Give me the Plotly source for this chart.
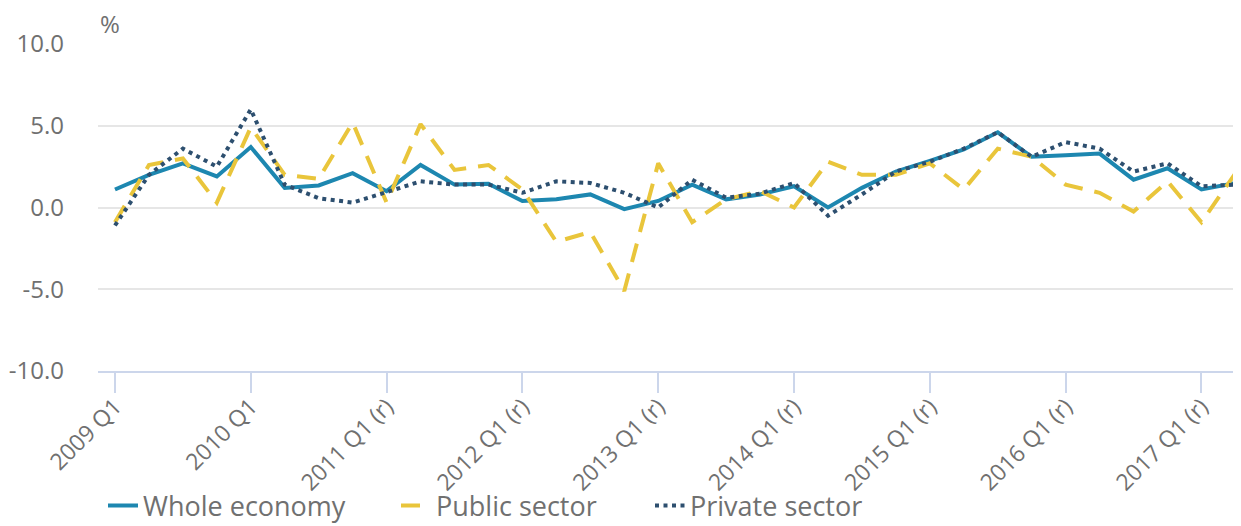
import plotly.graph_objects as go

years = list(range(2009, 2018))
quarters = ["Q1", "Q2", "Q3", "Q4"]
categories = []
for y in years:
    for q in quarters:
        suffix = " (r)" if y >= 2011 else ""
        categories.append(f"{y} {q}{suffix}")
categories = categories[:34]  # 2009 Q1 .. 2017 Q2

whole_economy = [1.1, 2.0, 2.7, 1.9, 3.7, 1.2, 1.35, 2.1, 1.0, 2.6, 1.4, 1.45,
                 0.4, 0.5, 0.8, -0.1, 0.4, 1.4, 0.5, 0.8, 1.3, 0.0, 1.2, 2.2,
                 2.85, 3.55, 4.6, 3.1, 3.2, 3.3, 1.7, 2.4, 1.1, 1.5]
public_sector = [-0.9, 2.6, 3.0, 0.3, 4.9, 2.0, 1.75, 5.2, 0.3, 5.1, 2.3, 2.6,
                 1.1, -2.1, -1.5, -5.1, 2.7, -0.9, 0.5, 1.0, 0.0, 2.8, 2.0, 2.0,
                 2.7, 1.1, 3.6, 3.1, 1.4, 0.9, -0.25, 1.6, -0.9, 2.1]
private_sector = [-1.1, 2.0, 3.6, 2.5, 6.0, 1.4, 0.57, 0.3, 0.94, 1.6, 1.4, 1.4,
                  0.9, 1.6, 1.5, 0.9, 0.0, 1.7, 0.6, 0.85, 1.5, -0.5, 0.8, 2.2,
                  2.8, 3.6, 4.6, 3.1, 4.0, 3.6, 2.2, 2.7, 1.3, 1.4]

tick_vals = categories[::4]
y_ticks = [-10, -5, 0, 5, 10]
y_tick_text = ["-10.0", "-5.0", "0.0", "5.0", "10.0"]

FONT = "Open Sans"
GREY = "#707070"
W, H = 1241, 526

fig = go.Figure()
fig.add_trace(go.Scatter(x=categories, y=whole_economy, name="Whole economy",
                         mode="lines", line=dict(color="#1d87b0", width=4),
                         legend="legend"))
fig.add_trace(go.Scatter(x=categories, y=public_sector, name="Public sector",
                         mode="lines", line=dict(color="#e9c53b", width=4, dash="19px,12px"),
                         legend="legend2"))
fig.add_trace(go.Scatter(x=categories, y=private_sector, name="Private sector",
                         mode="lines", line=dict(color="#2d4f6f", width=4, dash="4px,4.5px"),
                         legend="legend3"))

legend_y = 1 - 498 / H
legend_common = dict(orientation="h", xref="container", yref="container",
                     xanchor="left", yanchor="middle", y=legend_y,
                     font=dict(family=FONT, size=27, color=GREY),
                     bgcolor="rgba(0,0,0,0)", borderwidth=0)

fig.update_layout(
    width=W, height=H,
    margin=dict(l=90, r=0, t=36, b=163, autoexpand=False),
    paper_bgcolor="white", plot_bgcolor="white",
    font=dict(family=FONT, color=GREY),
    legend=dict(x=95 / W, **legend_common),
    legend2=dict(x=388 / W, **legend_common),
    legend3=dict(x=642 / W, **legend_common),
    xaxis=dict(type="category", categoryorder="array", categoryarray=categories,
               range=[-0.5, 33.4], tickmode="array", tickvals=tick_vals,
               tickangle=-45, ticks="outside", ticklen=20, tickwidth=2,
               ticklabelstandoff=-9,
               tickcolor="#ccd6eb", showline=True, linecolor="#ccd6eb", linewidth=2,
               showgrid=False, zeroline=False,
               tickfont=dict(family=FONT, size=23, color=GREY)),
    yaxis=dict(range=[-10, 10], tickmode="array", tickvals=y_ticks, ticktext=y_tick_text,
               showgrid=True, gridcolor="#e6e6e6", gridwidth=1.5, zeroline=False,
               showline=False, ticks="", ticklabelstandoff=33,
               tickfont=dict(family=FONT, size=24, color=GREY)),
    annotations=[dict(text="%", xref="paper", yref="paper", x=0, y=1,
                      xanchor="left", yanchor="bottom", showarrow=False, xshift=0, yshift=2,
                      font=dict(family=FONT, size=24, color=GREY))],
    showlegend=True,
)

fig.write_html("out.html")
